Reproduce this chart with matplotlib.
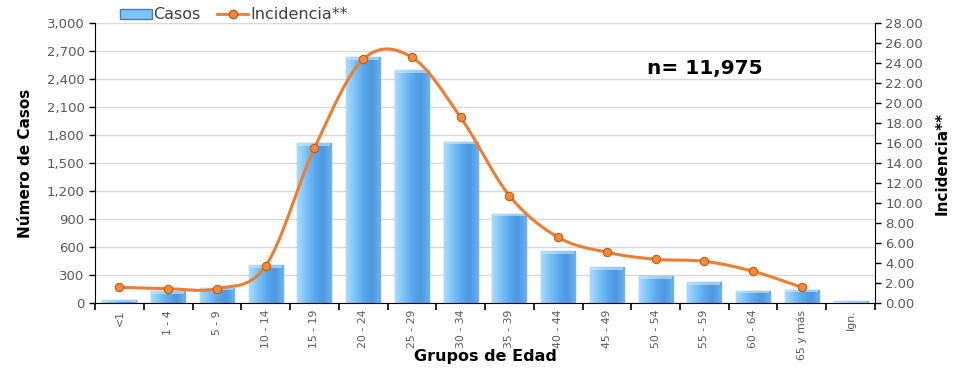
import matplotlib
matplotlib.use("Agg")
import matplotlib.pyplot as plt
import numpy as np
from matplotlib.lines import Line2D
from matplotlib.patches import Patch

grupos = ["<1", "1 - 4", "5 - 9", "10 - 14", "15 - 19", "20 - 24", "25 - 29", "30 - 34",
          "35 - 39", "40 - 44", "45 - 49", "50 - 54", "55 - 59", "60 - 64", "65 y más", "Ign."]
casos = [35, 125, 160, 404, 1711, 2633, 2494, 1729, 954, 554, 383, 286, 222, 132, 143, 25]
incidencia = [1.57, 1.43, 1.43, 3.70, 15.47, 24.37, 24.57, 18.57, 10.73, 6.57, 5.07, 4.37,
              4.17, 3.17, 1.57]

gray = "#595959"


def catmull_rom(x, y, n=30):
    # smooth curve through every point, like a spreadsheet "smoothed line"
    x = np.asarray(x, float)
    y = np.asarray(y, float)
    px = np.concatenate([[2 * x[0] - x[1]], x, [2 * x[-1] - x[-2]]])
    py = np.concatenate([[2 * y[0] - y[1]], y, [2 * y[-1] - y[-2]]])
    xs, ys = [], []
    t = np.linspace(0, 1, n)
    for i in range(1, len(px) - 2):
        for p, out in ((px, xs), (py, ys)):
            p0, p1, p2, p3 = p[i - 1], p[i], p[i + 1], p[i + 2]
            out.extend(0.5 * (2 * p1 + (-p0 + p2) * t + (2 * p0 - 5 * p1 + 4 * p2 - p3) * t ** 2
                              + (-p0 + 3 * p1 - 3 * p2 + p3) * t ** 3))
    return np.array(xs), np.array(ys)


fig = plt.figure(figsize=(9.61, 3.69), dpi=100)
ax = fig.add_axes([0.0989, 0.1789, 0.8116, 0.7588])
ax2 = ax.twinx()

x = np.arange(len(grupos))
width = 0.7
bars = ax.bar(x, casos, width, color="#6cb6f2", edgecolor="#4a7fae", linewidth=0.9, zorder=2)

# horizontal gradient inside each bar
grad = np.linspace(0, 1, 64).reshape(1, -1)
cmap = matplotlib.colors.LinearSegmentedColormap.from_list(
    "barra", ["#a9dafb", "#7cc3f7", "#5aa8ee", "#4d98e0", "#6ab3ef"])
for b in bars:
    x0, w, h = b.get_x(), b.get_width(), b.get_height()
    im = ax.imshow(grad, cmap=cmap, aspect="auto", extent=[x0, x0 + w, 0, h], zorder=2.1)
    im.set_clip_path(b)
    # light cap on top of the bar
    cap = min(h, 25)
    ax.fill_between([x0 + 0.02, x0 + w - 0.02], h - cap, h, color="#c9ebff", alpha=0.6,
                    linewidth=0, zorder=2.2)

ax.set_xlim(-0.5, len(grupos) - 0.5)
ax.set_ylim(0, 3000)
ax.set_yticks(np.arange(0, 3001, 300))
ax.set_yticklabels([f"{v:,}" for v in range(0, 3001, 300)])
ax.grid(axis="y", color="#d9d9d9", linewidth=1, zorder=0)
ax.set_axisbelow(True)

ax.set_xticks(x)
ax.set_xticklabels(grupos, rotation=90, fontsize=7.8, color=gray)
ax.tick_params(axis="x", length=0, pad=5)
ax.set_xticks(np.arange(-0.5, len(grupos), 1), minor=True)
ax.tick_params(axis="x", which="minor", length=5, width=1.2, direction="out")
ax.tick_params(axis="y", length=4, width=1, colors="black", labelcolor=gray, labelsize=9.5)

for s in ["top", "right"]:
    ax.spines[s].set_visible(False)
ax.spines["left"].set_color("black")
ax.spines["bottom"].set_color("black")

xs, ys = catmull_rom(x[:len(incidencia)], incidencia)
ax2.plot(xs, ys, color="#ed7d31", linewidth=2.2, zorder=3)
ax2.plot(x[:len(incidencia)], incidencia, "o", color="#f08a3c", markeredgecolor="#c55a11",
         markersize=6, markeredgewidth=0.8, zorder=4)
ax2.set_ylim(0, 28)
ax2.set_yticks(np.arange(0, 28.1, 2))
ax2.set_yticklabels([f"{v:.2f}" for v in np.arange(0, 28.1, 2)])
ax2.tick_params(axis="y", length=4, width=1, colors="black", labelcolor=gray, labelsize=9.5)
for s in ["top", "left", "bottom"]:
    ax2.spines[s].set_visible(False)
ax2.spines["right"].set_color("black")

ax.set_ylabel("Número de Casos", fontweight="bold", fontsize=11, labelpad=10)
ax2.set_ylabel("Incidencia**", fontweight="bold", fontsize=11, labelpad=8)
ax.set_xlabel("Grupos de Edad", fontweight="bold", fontsize=11.5, va="center")
ax.xaxis.set_label_coords(0.5, -0.192)

ax.text(0.782, 0.839, "n= 11,975", transform=ax.transAxes, ha="center", va="center",
        fontsize=14.5, fontweight="bold")

handles = [Patch(facecolor="#7cc3f7", edgecolor="#4a7fae"),
           Line2D([0], [0], color="#ed7d31", lw=2, marker="o", markerfacecolor="#f08a3c",
                  markeredgecolor="#c55a11", markersize=6)]
fig.legend(handles, ["Casos", "Incidencia**"], loc="center left", bbox_to_anchor=(0.118, 0.96),
           ncol=2, frameon=False, fontsize=11.5, handlelength=2.0, handleheight=0.6,
           handletextpad=0.1, columnspacing=1.0, labelcolor="#404040", borderaxespad=0)

fig.savefig("out.png", dpi=100)
